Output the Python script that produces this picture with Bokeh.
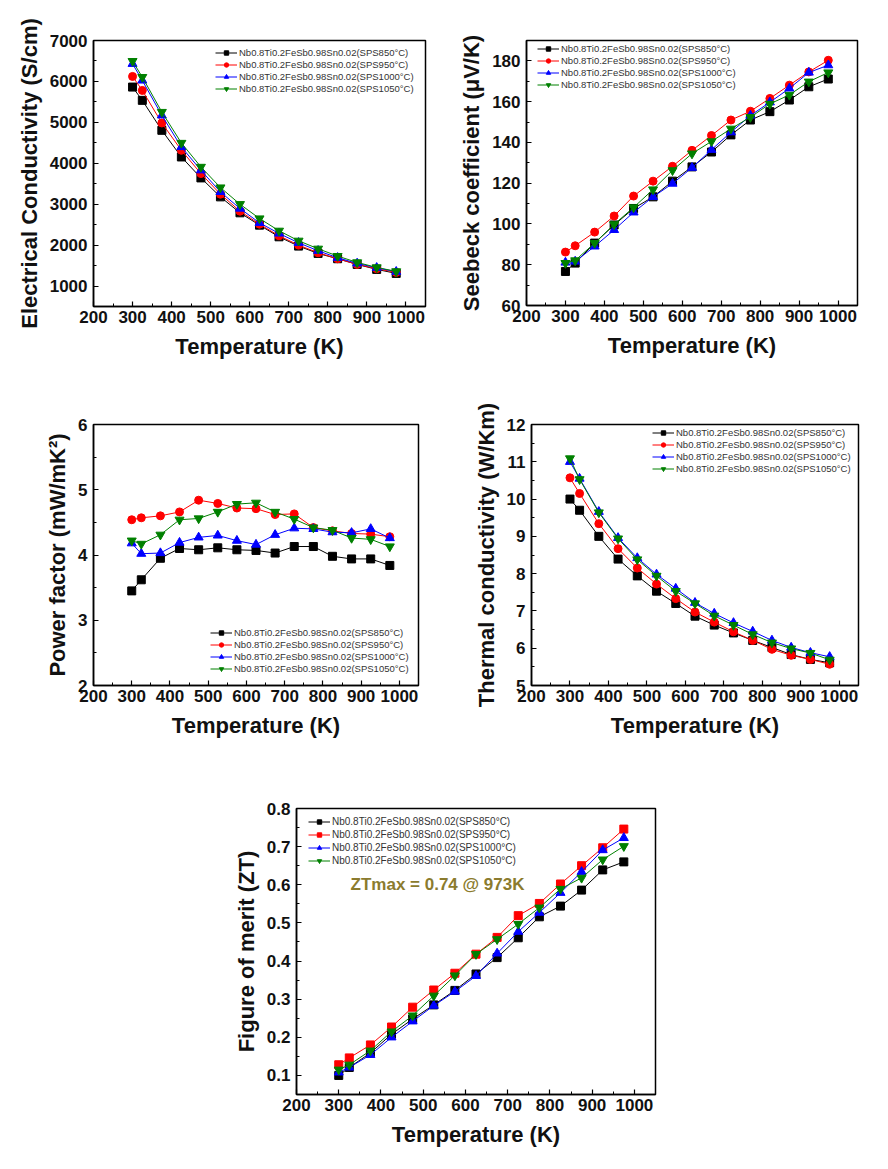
from bokeh.plotting import figure
from bokeh.layouts import column, row
from bokeh.models import Spacer, Legend, LegendItem, FixedTicker, Range1d, Label
from bokeh.embed import file_html
from bokeh.resources import INLINE

# ---------------- data ----------------
temps = [300, 325, 375, 425, 475, 525, 575, 625, 675, 725, 775, 825, 875, 925, 975]
series_names = [
    "Nb0.8Ti0.2FeSb0.98Sn0.02(SPS850°C)",
    "Nb0.8Ti0.2FeSb0.98Sn0.02(SPS950°C)",
    "Nb0.8Ti0.2FeSb0.98Sn0.02(SPS1000°C)",
    "Nb0.8Ti0.2FeSb0.98Sn0.02(SPS1050°C)",
]

elec_850 = [5862, 5537, 4805, 4154, 3642, 3179, 2789, 2488, 2203, 1976, 1797, 1667, 1528, 1407, 1309]
elec_950 = [6122, 5780, 4984, 4317, 3748, 3244, 2829, 2512, 2228, 2000, 1813, 1667, 1528, 1423, 1333]
elec_1000 = [6431, 6024, 5171, 4398, 3829, 3300, 2894, 2545, 2285, 2057, 1862, 1691, 1553, 1447, 1350]
elec_1050 = [6496, 6106, 5252, 4496, 3911, 3407, 3000, 2650, 2350, 2106, 1911, 1732, 1577, 1455, 1358]

seebeck_850 = [76.7, 80.8, 90.6, 99.5, 107.6, 113.3, 121.0, 128.0, 135.3, 143.7, 151.0, 155.1, 160.8, 167.3, 171.1]
seebeck_950 = [86.2, 89.3, 96.0, 103.9, 113.7, 121.0, 128.3, 136.1, 143.4, 151.0, 155.3, 161.6, 168.1, 174.6, 180.3]
seebeck_1000 = [81.1, 81.6, 89.0, 97.1, 105.7, 113.3, 119.8, 127.6, 136.4, 145.0, 153.2, 159.7, 166.5, 174.3, 177.9]
seebeck_1050 = [80.8, 82.1, 90.6, 99.8, 108.1, 116.9, 126.3, 134.5, 140.5, 146.7, 152.4, 158.9, 163.3, 169.8, 174.3]

pf_850 = [3.45, 3.62, 3.95, 4.10, 4.08, 4.11, 4.08, 4.07, 4.03, 4.13, 4.13, 3.98, 3.94, 3.94, 3.84]
pf_950 = [4.54, 4.57, 4.60, 4.66, 4.84, 4.79, 4.72, 4.71, 4.62, 4.63, 4.42, 4.37, 4.33, 4.32, 4.28]
pf_1000 = [4.18, 4.02, 4.03, 4.19, 4.27, 4.30, 4.22, 4.16, 4.31, 4.41, 4.40, 4.35, 4.34, 4.40, 4.26]
pf_1050 = [4.22, 4.17, 4.31, 4.54, 4.56, 4.66, 4.78, 4.80, 4.66, 4.55, 4.42, 4.38, 4.26, 4.24, 4.13]

tc_850 = [10.00, 9.70, 9.00, 8.39, 7.94, 7.53, 7.20, 6.86, 6.62, 6.41, 6.21, 6.02, 5.83, 5.70, 5.61]
tc_950 = [10.57, 10.15, 9.34, 8.67, 8.15, 7.72, 7.33, 6.97, 6.70, 6.44, 6.21, 5.97, 5.81, 5.70, 5.57]
tc_1000 = [11.00, 10.55, 9.66, 8.96, 8.42, 7.98, 7.60, 7.22, 6.93, 6.68, 6.45, 6.21, 6.02, 5.88, 5.77]
tc_1050 = [11.09, 10.53, 9.64, 8.94, 8.38, 7.94, 7.53, 7.20, 6.87, 6.62, 6.37, 6.15, 5.99, 5.87, 5.69]

zt_850 = [0.100, 0.121, 0.159, 0.208, 0.248, 0.285, 0.323, 0.366, 0.409, 0.461, 0.516, 0.544, 0.586, 0.639, 0.660]
zt_950 = [0.128, 0.146, 0.180, 0.227, 0.279, 0.324, 0.368, 0.418, 0.462, 0.519, 0.551, 0.602, 0.650, 0.697, 0.746]
zt_1000 = [0.108, 0.121, 0.154, 0.200, 0.242, 0.283, 0.320, 0.361, 0.420, 0.477, 0.527, 0.579, 0.634, 0.691, 0.723]
zt_1050 = [0.115, 0.128, 0.165, 0.215, 0.257, 0.309, 0.362, 0.418, 0.457, 0.497, 0.540, 0.589, 0.618, 0.666, 0.701]

x_ticks = [200, 300, 400, 500, 600, 700, 800, 900, 1000]
elec_ticks = [1000, 2000, 3000, 4000, 5000, 6000, 7000]
seebeck_ticks = [60, 80, 100, 120, 140, 160, 180]
pf_ticks = [2, 3, 4, 5, 6]
tc_ticks = [5, 6, 7, 8, 9, 10, 11, 12]
zt_ticks = [0.1, 0.2, 0.3, 0.4, 0.5, 0.6, 0.7, 0.8]

annotation_text = "ZTmax = 0.74 @ 973K"

# ---------------- styling ----------------
COLORS = ["#000000", "#ff0000", "#0000ff", "#008000"]
FONT = "Liberation Sans"


def minor_between(ticks, lo, hi):
    step = (ticks[1] - ticks[0]) / 2.0
    out = []
    v = ticks[0] - step
    while v >= lo - 1e-9:
        out.append(v)
        v -= step
    v = ticks[0] + step
    while v <= hi + 1e-9:
        out.append(round(v, 6))
        v += step
    return [m for m in out if all(abs(m - t) > 1e-9 for t in ticks)]


def make_panel(ys, y_range, yticks, ylabel, borders, frame, legend_loc, markers, label_size=9.5):
    bl, br, bt, bb = borders
    fw, fh = frame
    p = figure(
        width=bl + fw + br, height=bt + fh + bb,
        frame_width=fw, frame_height=fh,
        min_border_left=bl, min_border_right=br, min_border_top=bt, min_border_bottom=bb,
        x_range=Range1d(200, 1050), y_range=Range1d(*y_range),
        output_backend="svg", toolbar_location=None,
    )
    p.xgrid.visible = False
    p.ygrid.visible = False
    p.outline_line_color = "black"
    p.outline_line_width = 1.5
    p.background_fill_color = "white"
    p.border_fill_color = "white"

    p.xaxis.ticker = FixedTicker(ticks=x_ticks, minor_ticks=minor_between(x_ticks, 200, 1050))
    p.yaxis.ticker = FixedTicker(ticks=yticks, minor_ticks=minor_between(yticks, y_range[0], y_range[1]))
    p.xaxis.axis_label = "Temperature (K)"
    p.yaxis.axis_label = ylabel
    for ax in (p.xaxis, p.yaxis):
        ax.axis_line_width = 1.5
        ax.major_tick_in = 5
        ax.major_tick_out = 0
        ax.minor_tick_in = 3
        ax.minor_tick_out = 0
        ax.major_tick_line_width = 1.2
        ax.major_label_text_font = FONT
        ax.major_label_text_font_style = "bold"
        ax.major_label_text_font_size = "17px"
        ax.major_label_text_color = "#111111"
        ax.axis_label_text_font = FONT
        ax.axis_label_text_font_style = "bold"
        ax.axis_label_text_font_size = "22px"
        ax.axis_label_text_color = "#111111"
    p.xaxis.major_label_standoff = 4
    p.xaxis.axis_label_standoff = 8
    p.yaxis.major_label_standoff = 6
    p.yaxis.axis_label_standoff = 5

    items = []
    for y, c, m, name in zip(ys, COLORS, markers, series_names):
        ln = p.line(temps, y, line_color=c, line_width=1)
        sz = 8 if m in ("square", "circle") else 9
        sc = p.scatter(temps, y, marker=m, size=sz, fill_color=c, line_color=c)
        items.append(LegendItem(label=name, renderers=[ln, sc]))
    leg = Legend(
        items=items, location=legend_loc,
        label_text_font=FONT, label_text_font_size=f"{label_size}px", label_text_color="#333333",
        glyph_width=22, glyph_height=11, label_height=11, label_standoff=2,
        spacing=1, padding=2, margin=0,
        background_fill_alpha=0, border_line_alpha=0,
    )
    p.add_layout(leg)
    return p


mk = ["square", "circle", "triangle", "inverted_triangle"]
mk_zt = ["square", "square", "triangle", "inverted_triangle"]

p1 = make_panel([elec_850, elec_950, elec_1000, elec_1050], (500, 7000), elec_ticks,
                "Electrical Conductivity (S/cm)", (93, 19, 40, 74), (332, 266), (120, 210), mk)
p2 = make_panel([seebeck_850, seebeck_950, seebeck_1000, seebeck_1050], (60, 190), seebeck_ticks,
                "Seebeck coefficient (μV/K)", (82, 31, 37, 78), (331, 265), (9, 213), mk)
p3 = make_panel([pf_850, pf_950, pf_1000, pf_1050], (2, 6), pf_ticks,
                "Power factor (mW/mK²)", (93, 26, 44, 75), (325, 261), (115, 9), mk)
p4 = make_panel([tc_850, tc_950, tc_1000, tc_1050], (5, 12), tc_ticks,
                "Thermal conductivity (W/Km)", (87, 30, 44, 75), (327, 261), (119, 209), mk)
p5 = make_panel([zt_850, zt_950, zt_1000, zt_1050], (0.05, 0.8), zt_ticks,
                "Figure of merit (ZT)", (96, 30, 48, 74), (359, 286), (10, 226), mk_zt, label_size=10)
p5.legend[0].spacing = 2
p5.yaxis.formatter.use_scientific = False

p5.add_layout(Label(x=328, y=0.6, text=annotation_text, text_baseline="middle",
                    text_font=FONT, text_font_style="bold", text_font_size="17px",
                    text_color="#8b7b2e"))

layout = column(
    row(p1, p2),
    row(p3, p4),
    row(Spacer(width=200, height=408), p5),
)

open("out.html", "w").write(file_html(layout, INLINE))
